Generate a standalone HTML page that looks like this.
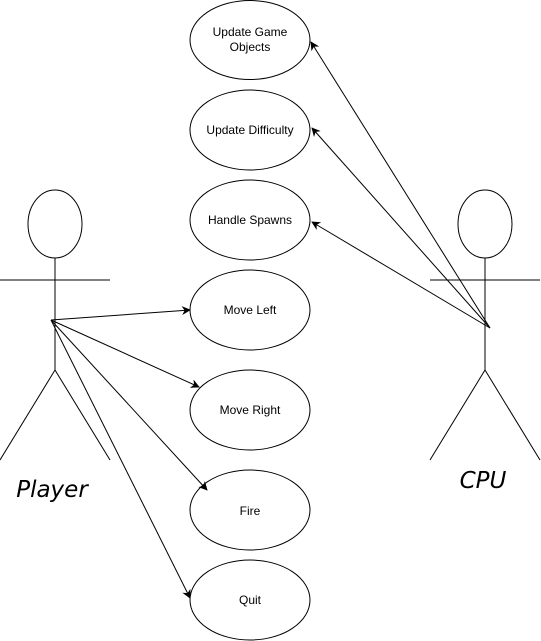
<!DOCTYPE html>
<html><head><style>html,body{margin:0;padding:0;background:#fff;}svg{display:block}</style></head>
<body>
<svg width="541" height="641" viewBox="0 0 541 641" xmlns="http://www.w3.org/2000/svg">
<defs><marker id="a" viewBox="0 0 10 10" refX="9" refY="5" markerWidth="9" markerHeight="9" orient="auto" markerUnits="userSpaceOnUse"><path d="M0,0 L10,5 L0,10 L3,5 Z" fill="#000"/></marker></defs>
<g fill="#fff" stroke="#000" stroke-width="1">
<ellipse cx="250" cy="40" rx="60" ry="39.5"/>
<ellipse cx="250" cy="130" rx="60" ry="40"/>
<ellipse cx="250" cy="220" rx="60" ry="40"/>
<ellipse cx="250" cy="310" rx="60" ry="40"/>
<ellipse cx="250" cy="410" rx="60" ry="40"/>
<ellipse cx="250" cy="510" rx="60" ry="40"/>
<ellipse cx="250" cy="600" rx="60" ry="40"/>
<ellipse cx="55" cy="224" rx="27" ry="34"/>
<ellipse cx="485" cy="224" rx="27" ry="34"/>
</g>
<g stroke="#000" stroke-width="1" fill="none">
<line x1="55" y1="258" x2="55" y2="370"/><line x1="0" y1="280" x2="110" y2="280"/>
<line x1="55" y1="370" x2="0" y2="460"/><line x1="55" y1="370" x2="110" y2="460"/>
<line x1="485" y1="258" x2="485" y2="370"/><line x1="430" y1="280" x2="540" y2="280"/>
<line x1="485" y1="370" x2="430" y2="460"/><line x1="485" y1="370" x2="540" y2="460"/>
<g marker-end="url(#a)">
<line x1="51" y1="320" x2="190" y2="310"/>
<line x1="51" y1="320" x2="199" y2="387"/>
<line x1="51" y1="320" x2="207" y2="490"/>
<line x1="51" y1="320" x2="190" y2="598"/>
<line x1="490" y1="328" x2="311" y2="42"/>
<line x1="490" y1="328" x2="312" y2="128"/>
<line x1="490" y1="328" x2="312" y2="222"/>
</g></g>
<g font-family="Liberation Sans, sans-serif" font-size="12" text-anchor="middle" fill="#000">
<text x="250" y="36">Update Game</text><text x="250" y="51">Objects</text>
<text x="250" y="134">Update Difficulty</text>
<text x="250" y="224">Handle Spawns</text>
<text x="250" y="314">Move Left</text>
<text x="250" y="414">Move Right</text>
<text x="250" y="515">Fire</text>
<text x="250" y="604">Quit</text>
</g>
<g font-family="DejaVu Sans, sans-serif" font-style="italic" font-size="23" text-anchor="middle" fill="#000">
<text x="52" y="497">Player</text>
<text x="483" y="488">CPU</text>
</g>
</svg>
</body></html>
